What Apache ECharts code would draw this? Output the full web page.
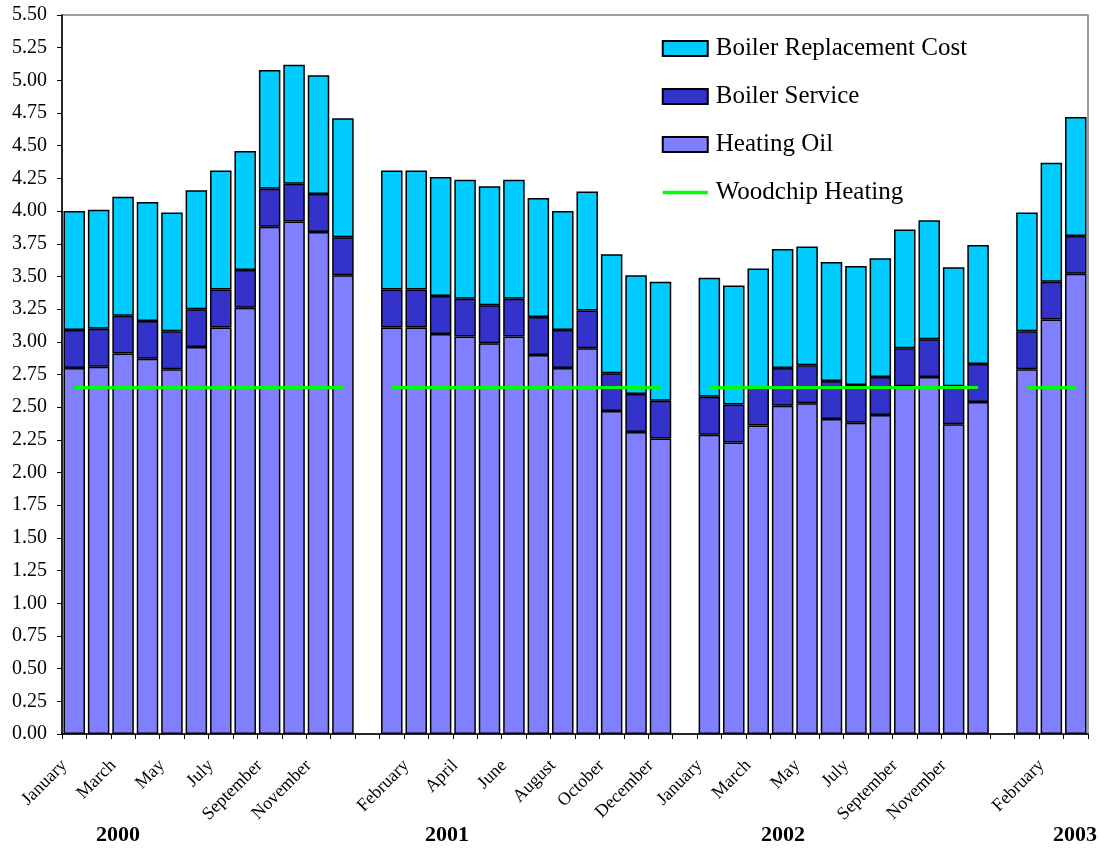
<!DOCTYPE html>
<html>
<head>
<meta charset="utf-8">
<script src="https://cdn.jsdelivr.net/npm/echarts@6/dist/echarts.min.js"></script>
<style>
html,body{margin:0;padding:0;background:#fff;}
#chart{width:1100px;height:851px;}
</style>
</head>
<body>
<div id="chart"></div>
<script>
// ---- Data ----
const monthNames = ['January','February','March','April','May','June','July','August','September','October','November','December'];
const yearLabels = ['2000','2001','2002','2003'];

const heatingOil2000 = [2.80, 2.81, 2.91, 2.87, 2.79, 2.96, 3.11, 3.26, 3.88, 3.92, 3.84, 3.51];
const heatingOil2001 = [3.11, 3.11, 3.06, 3.04, 2.99, 3.04, 2.90, 2.80, 2.95, 2.47, 2.31, 2.26];
const heatingOil2002 = [2.29, 2.23, 2.36, 2.51, 2.53, 2.41, 2.38, 2.44, 2.66, 2.73, 2.37, 2.54];
const heatingOil2003 = [2.79, 3.17, 3.52];

const boilerService2000 = [0.29, 0.29, 0.29, 0.29, 0.29, 0.29, 0.29, 0.29, 0.29, 0.29, 0.29, 0.29];
const boilerService2001 = [0.29, 0.29, 0.29, 0.29, 0.29, 0.29, 0.29, 0.29, 0.29, 0.29, 0.29, 0.29];
const boilerService2002 = [0.29, 0.29, 0.29, 0.29, 0.29, 0.29, 0.29, 0.29, 0.29, 0.29, 0.29, 0.29];
const boilerService2003 = [0.29, 0.29, 0.29];

const boilerReplacement2000 = [0.91, 0.91, 0.91, 0.91, 0.91, 0.91, 0.91, 0.91, 0.91, 0.91, 0.91, 0.91];
const boilerReplacement2001 = [0.91, 0.91, 0.91, 0.91, 0.91, 0.91, 0.91, 0.91, 0.91, 0.91, 0.91, 0.91];
const boilerReplacement2002 = [0.91, 0.91, 0.91, 0.91, 0.91, 0.91, 0.91, 0.91, 0.91, 0.91, 0.91, 0.91];
const boilerReplacement2003 = [0.91, 0.91, 0.91];

const woodchip2000 = [2.65, 2.65, 2.65, 2.65, 2.65, 2.65, 2.65, 2.65, 2.65, 2.65, 2.65, 2.65];
const woodchip2001 = [2.65, 2.65, 2.65, 2.65, 2.65, 2.65, 2.65, 2.65, 2.65, 2.65, 2.65, 2.65];
const woodchip2002 = [2.65, 2.65, 2.65, 2.65, 2.65, 2.65, 2.65, 2.65, 2.65, 2.65, 2.65, 2.65];
const woodchip2003 = [2.65, 2.65, 2.65];

// ---- Build category axis with an empty slot between years ----
function joinYears(a, b, c, d, gap) {
  return a.concat([gap], b, [gap], c, [gap], d);
}
const categories = joinYears(monthNames, monthNames, monthNames, monthNames.slice(0, 3), '');
const heatingOil = joinYears(heatingOil2000, heatingOil2001, heatingOil2002, heatingOil2003, '-');
const boilerService = joinYears(boilerService2000, boilerService2001, boilerService2002, boilerService2003, '-');
const boilerReplacement = joinYears(boilerReplacement2000, boilerReplacement2001, boilerReplacement2002, boilerReplacement2003, '-');
const woodchip = joinYears(woodchip2000, woodchip2001, woodchip2002, woodchip2003, null);

const FONT = '"Liberation Serif", "Times New Roman", serif';
const barBorder = { borderColor: '#000000', borderWidth: 1.5 };

const chart = echarts.init(document.getElementById('chart'), null, { renderer: 'canvas' });

const yearX = [118, 447, 783, 1075];

chart.setOption({
  backgroundColor: '#ffffff',
  animation: false,
  grid: {
    left: 62, right: 12, top: 15, bottom: 117,
    show: true, borderColor: '#808080', borderWidth: 1.5, backgroundColor: 'transparent'
  },
  legend: {
    orient: 'vertical',
    left: 661, top: 36, padding: 0,
    itemWidth: 45, itemHeight: 15, itemGap: 23,
    textStyle: { fontFamily: FONT, fontSize: 25, color: '#000', padding: [0, 0, 0, 3] },
    data: [
      { name: 'Boiler Replacement Cost', icon: 'rect' },
      { name: 'Boiler Service', icon: 'rect' },
      { name: 'Heating Oil', icon: 'rect' },
      { name: 'Woodchip Heating', itemStyle: { opacity: 0 }, lineStyle: { width: 3.5, color: '#00FF00' } }
    ]
  },
  xAxis: {
    type: 'category',
    data: categories,
    boundaryGap: true,
    axisLine: { lineStyle: { color: '#000', width: 1.5 } },
    axisTick: { show: true, interval: 0, length: 5, lineStyle: { color: '#000' } },
    axisLabel: {
      interval: 1, rotate: 45, margin: 19,
      fontFamily: FONT, fontSize: 18, color: '#000',
      padding: [0, 14, 0, 0]
    },
    splitLine: { show: false }
  },
  yAxis: {
    type: 'value',
    min: 0, max: 5.5, interval: 0.25,
    axisLine: { show: true, lineStyle: { color: '#000', width: 1.5 } },
    axisTick: { show: true, length: 5, lineStyle: { color: '#000' } },
    axisLabel: {
      margin: 15, fontFamily: FONT, fontSize: 20, color: '#000',
      formatter: function (v) { return v.toFixed(2); }
    },
    splitLine: { show: false }
  },
  series: [
    {
      name: 'Heating Oil', type: 'bar', stack: 'cost', barWidth: '88%',
      itemStyle: Object.assign({ color: '#8080FF' }, barBorder),
      data: heatingOil
    },
    {
      name: 'Boiler Service', type: 'bar', stack: 'cost', barWidth: '88%',
      itemStyle: Object.assign({ color: '#3333CC' }, barBorder),
      data: boilerService
    },
    {
      name: 'Boiler Replacement Cost', type: 'bar', stack: 'cost', barWidth: '88%',
      itemStyle: Object.assign({ color: '#00CCFF' }, barBorder),
      data: boilerReplacement
    },
    {
      name: 'Woodchip Heating', type: 'line',
      symbol: 'none', connectNulls: false,
      lineStyle: { color: '#00FF00', width: 3 },
      itemStyle: { color: '#00FF00' },
      data: woodchip, z: 5
    }
  ],
  graphic: yearLabels.map(function (y, i) {
    return {
      type: 'text', x: yearX[i], y: 835,
      style: {
        text: y, fontFamily: FONT, fontSize: 22, fontWeight: 'bold', fill: '#000',
        align: 'center', verticalAlign: 'middle'
      }
    };
  })
});
</script>
</body>
</html>
